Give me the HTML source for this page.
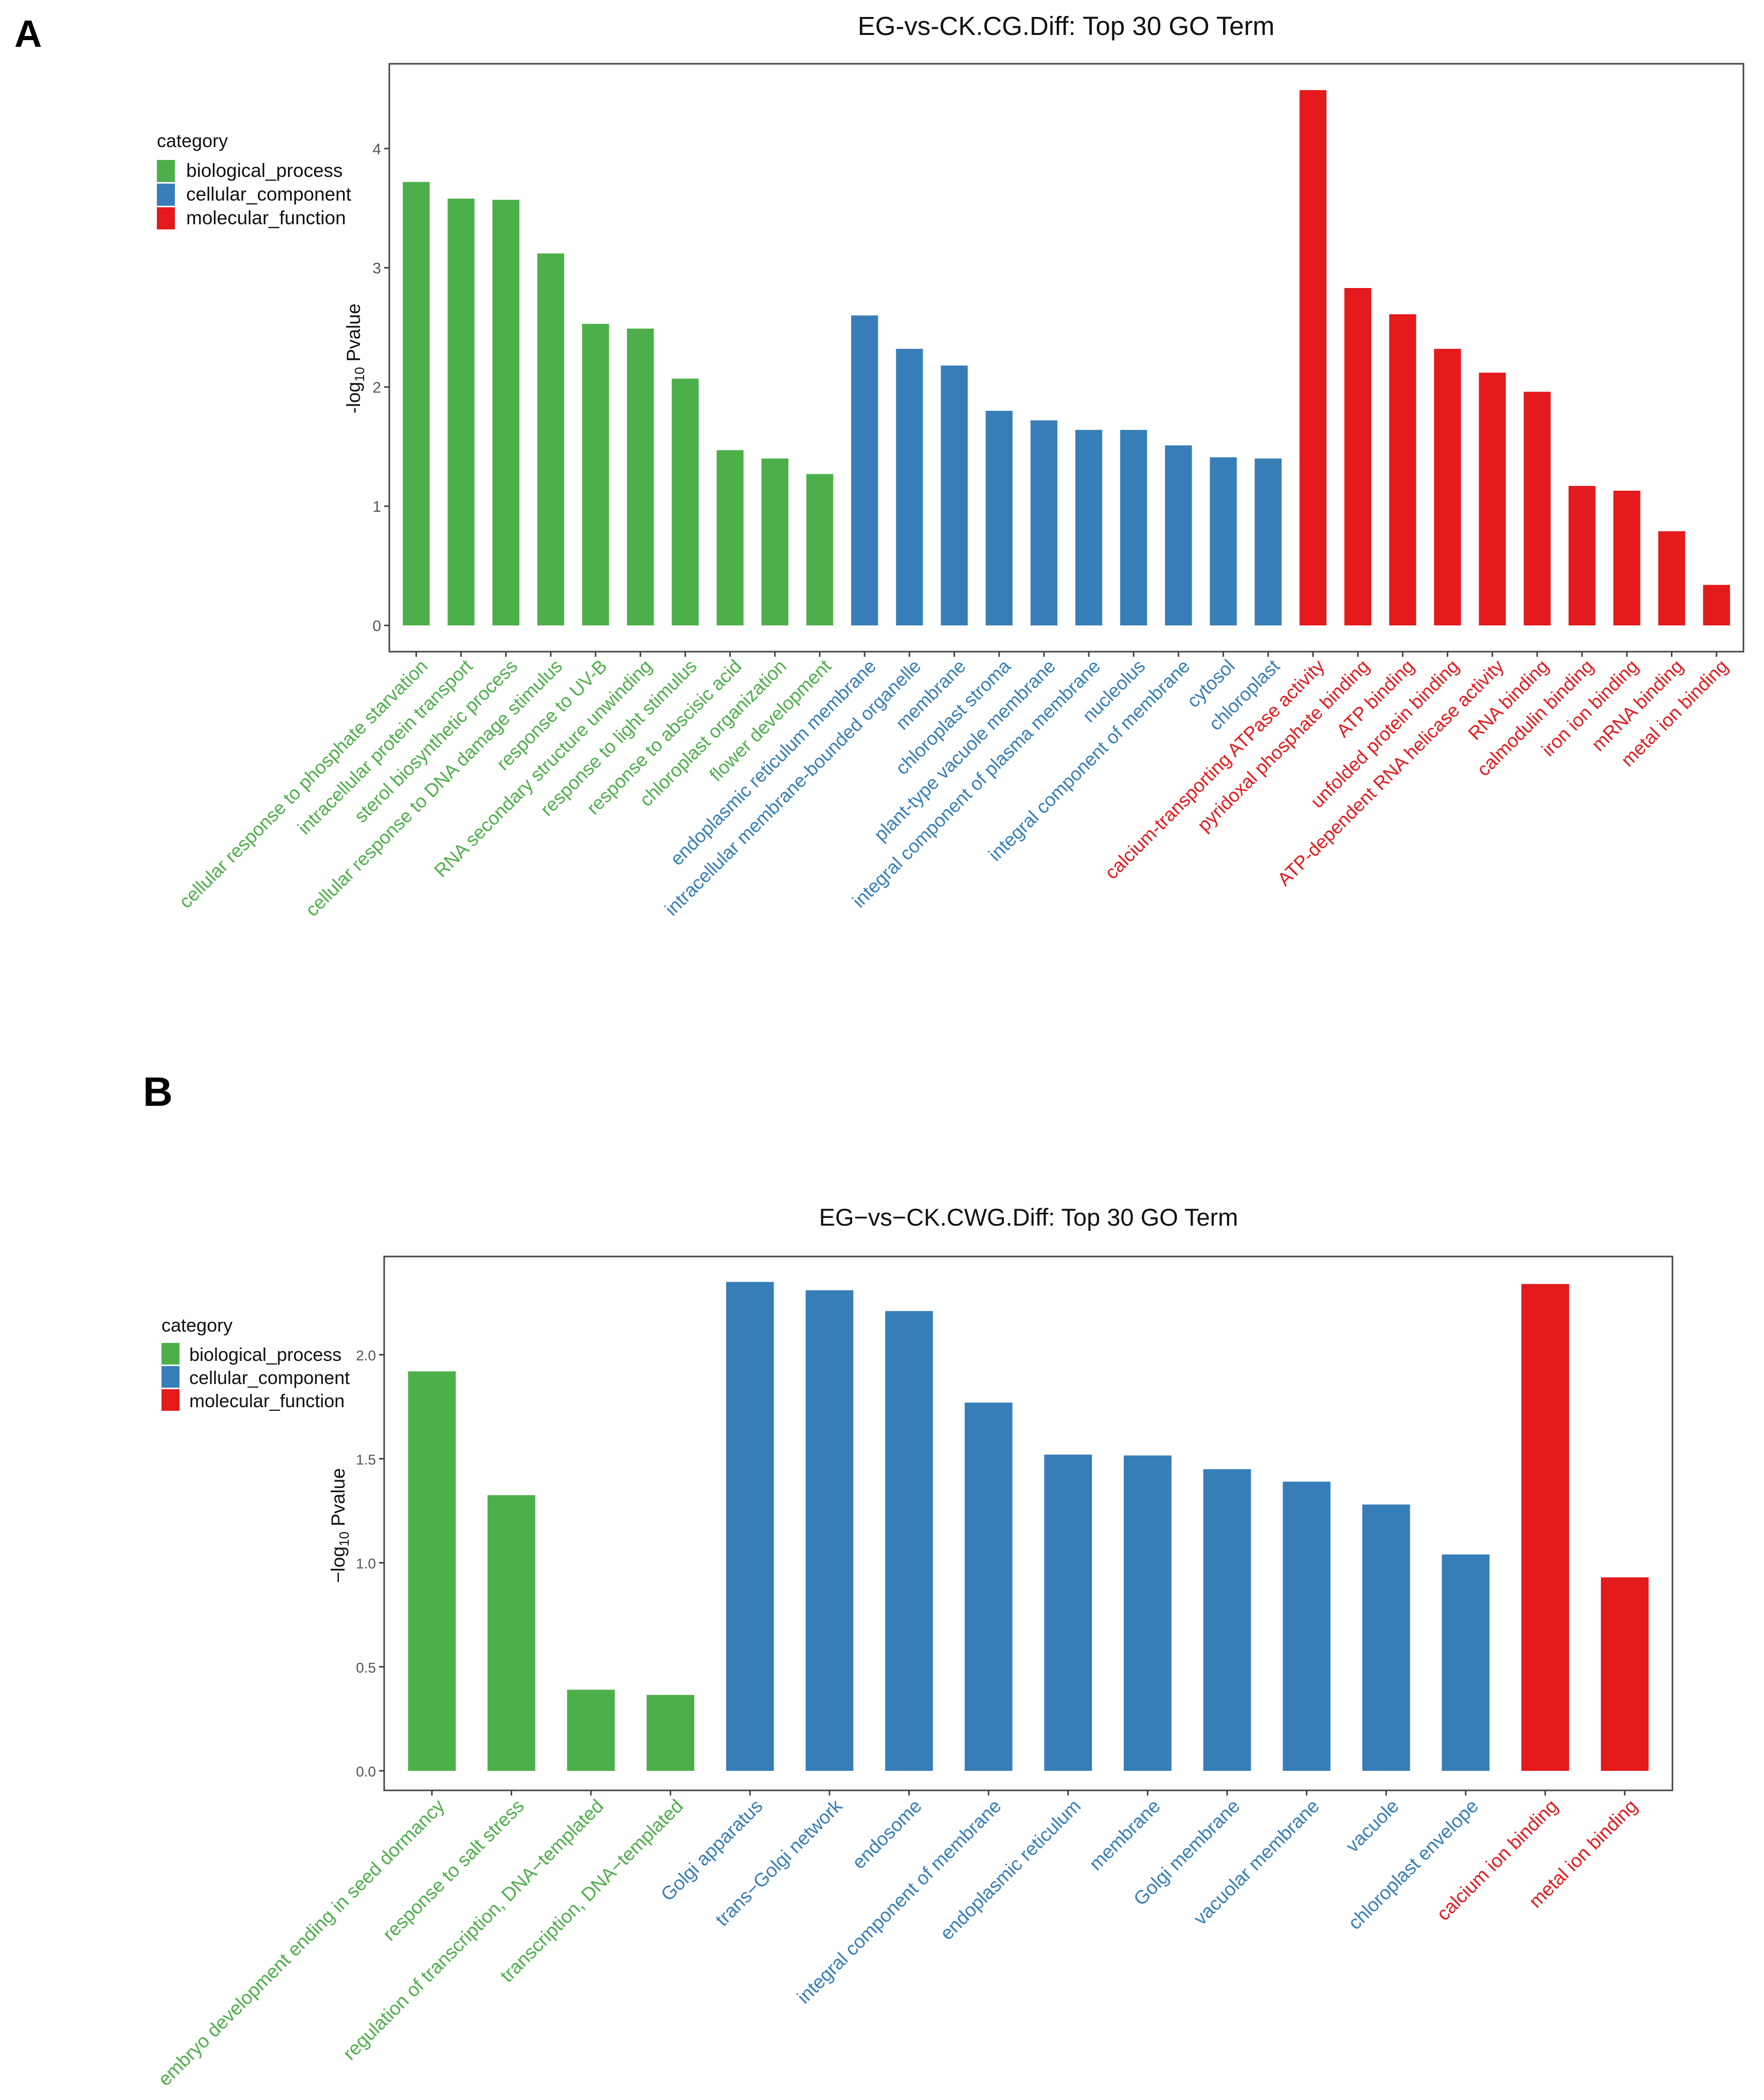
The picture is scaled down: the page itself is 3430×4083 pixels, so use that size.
<!DOCTYPE html>
<html><head><meta charset="utf-8"><style>
html,body{margin:0;padding:0;background:#fff;}
svg{display:block;font-family:"Liberation Sans",sans-serif;}
</style></head><body>
<svg id="fig" xmlns="http://www.w3.org/2000/svg" width="3430" height="4083" viewBox="0 0 3430 4083">
<rect width="3430" height="4083" fill="#fff"/>
<text x="28" y="91" font-size="74" font-weight="bold" fill="#000">A</text>
<text x="278" y="2150" font-size="80" font-weight="bold" fill="#000">B</text>
<text x="2073" y="68" font-size="51" text-anchor="middle" fill="#111">EG-vs-CK.CG.Diff: Top 30 GO Term</text>
<text x="2000" y="2383" font-size="47" text-anchor="middle" fill="#111">EG−vs−CK.CWG.Diff: Top 30 GO Term</text>
<g>
<text x="305" y="286" font-size="36" fill="#111">category</text>
<rect x="305" y="311" width="35" height="43" fill="#4DAF4A"/>
<rect x="305" y="357" width="35" height="43" fill="#377EB8"/>
<rect x="305" y="403" width="35" height="43" fill="#E41A1C"/>
<text x="362" y="344" font-size="37" fill="#111">biological_process</text>
<text x="362" y="390" font-size="37" fill="#111">cellular_component</text>
<text x="362" y="436" font-size="37" fill="#111">molecular_function</text>
</g>
<g>
<text x="314" y="2589" font-size="36" fill="#111">category</text>
<rect x="314" y="2611" width="35" height="42" fill="#4DAF4A"/>
<rect x="314" y="2656" width="35" height="42" fill="#377EB8"/>
<rect x="314" y="2701" width="35" height="42" fill="#E41A1C"/>
<text x="368" y="2646" font-size="36" fill="#111">biological_process</text>
<text x="368" y="2691" font-size="36" fill="#111">cellular_component</text>
<text x="368" y="2736" font-size="36" fill="#111">molecular_function</text>
</g>
<g id="chartA"></g>
<g id="chartB"></g>
</svg>
<script>
const catA = ["cellular response to phosphate starvation","intracellular protein transport","sterol biosynthetic process","cellular response to DNA damage stimulus","response to UV-B","RNA secondary structure unwinding","response to light stimulus","response to abscisic acid","chloroplast organization","flower development","endoplasmic reticulum membrane","intracellular membrane-bounded organelle","membrane","chloroplast stroma","plant-type vacuole membrane","integral component of plasma membrane","nucleolus","integral component of membrane","cytosol","chloroplast","calcium-transporting ATPase activity","pyridoxal phosphate binding","ATP binding","unfolded protein binding","ATP-dependent RNA helicase activity","RNA binding","calmodulin binding","iron ion binding","mRNA binding","metal ion binding"];
const groupA = ["bp","bp","bp","bp","bp","bp","bp","bp","bp","bp","cc","cc","cc","cc","cc","cc","cc","cc","cc","cc","mf","mf","mf","mf","mf","mf","mf","mf","mf","mf"];
const valA = [3.72,3.58,3.57,3.12,2.53,2.49,2.07,1.47,1.40,1.27,2.60,2.32,2.18,1.80,1.72,1.64,1.64,1.51,1.41,1.40,4.49,2.83,2.61,2.32,2.12,1.96,1.17,1.13,0.79,0.34];
const ticksA = [0,1,2,3,4];
const tickLabelsA = ["0","1","2","3","4"];
const catB = ["embryo development ending in seed dormancy","response to salt stress","regulation of transcription, DNA−templated","transcription, DNA−templated","Golgi apparatus","trans−Golgi network","endosome","integral component of membrane","endoplasmic reticulum","membrane","Golgi membrane","vacuolar membrane","vacuole","chloroplast envelope","calcium ion binding","metal ion binding"];
const groupB = ["bp","bp","bp","bp","cc","cc","cc","cc","cc","cc","cc","cc","cc","cc","mf","mf"];
const valB = [1.92,1.325,0.39,0.365,2.35,2.31,2.21,1.77,1.52,1.516,1.45,1.39,1.28,1.04,2.34,0.93];
const ticksB = [0,0.5,1.0,1.5,2.0];
const tickLabelsB = ["0.0","0.5","1.0","1.5","2.0"];

const COL = {bp:"#4DAF4A", cc:"#377EB8", mf:"#E41A1C"};
const NS = "http://www.w3.org/2000/svg";
function mk(tag, attrs, parent){const e=document.createElementNS(NS,tag);for(const k in attrs)e.setAttribute(k,attrs[k]);parent.appendChild(e);return e;}

function draw(g, cfg, cats, groups, vals, ticks, tickLabels){
  const n=cats.length;
  const step=(cfg.right-cfg.left)/(n+0.2);
  const xc=i=>cfg.left+step*(0.6+i);
  const y=v=>cfg.y0-v*cfg.unit;
  const frame=mk("rect",{x:cfg.left,y:cfg.top,width:cfg.right-cfg.left,height:cfg.bottom-cfg.top,fill:"none",stroke:"#444","stroke-width":3},g);
  
  
  ticks.forEach((t,i)=>{
    const tk=mk("line",{x1:cfg.left-10,x2:cfg.left,y1:y(t),y2:y(t),stroke:"#444","stroke-width":3},g);
    
    
    const tl=mk("text",{x:cfg.left-16,y:y(t)+11,"font-size":cfg.tickFs,"text-anchor":"end",fill:"#555"},g);
    tl.textContent=tickLabels[i];
    
    
  });
  const yt=mk("text",{transform:`translate(${cfg.ytx},${cfg.yty}) rotate(-90)`,"font-size":cfg.ytFs,"text-anchor":"middle",fill:"#111"},g);
  
  
  const t1=mk("tspan",{},yt);t1.textContent=cfg.minus+"log";
  const t2=mk("tspan",{"font-size":cfg.ytFs*0.7,dy:8},yt);t2.textContent="10";
  const t3=mk("tspan",{dy:-8},yt);t3.textContent=" Pvalue";
  const bw=step*0.6;
  vals.forEach((v,i)=>{
    const b=mk("rect",{x:xc(i)-bw/2,y:y(v),width:bw,height:y(0)-y(v),fill:COL[groups[i]]},g);
    
    
    const tk=mk("line",{x1:xc(i),x2:xc(i),y1:cfg.bottom,y2:cfg.bottom+10,stroke:"#444","stroke-width":3},g);
    
    
    const lb=mk("text",{transform:`translate(${xc(i)+cfg.lx},${cfg.bottom+cfg.ly}) rotate(-45)`,"font-size":cfg.labFs,"text-anchor":"end",dy:"0.72em",fill:COL[groups[i]]},g);
    lb.textContent=cats[i];
    
    
  });
}
draw(document.getElementById("chartA"),
  {left:757,right:3390,top:124,bottom:1267,y0:1216,unit:231.8,tickFs:30,ytx:700,yty:697,ytFs:37,minus:"-",labFs:36.5,lx:6,ly:12},
  catA,groupA,valA,ticksA,tickLabelsA);
draw(document.getElementById("chartB"),
  {left:747,right:3252,top:2443,bottom:3481,y0:3443,unit:404.5,tickFs:28,ytx:670,yty:2966,ytFs:37,minus:"−",labFs:37,lx:8,ly:14},
  catB,groupB,valB,ticksB,tickLabelsB);
</script>
</body></html>
